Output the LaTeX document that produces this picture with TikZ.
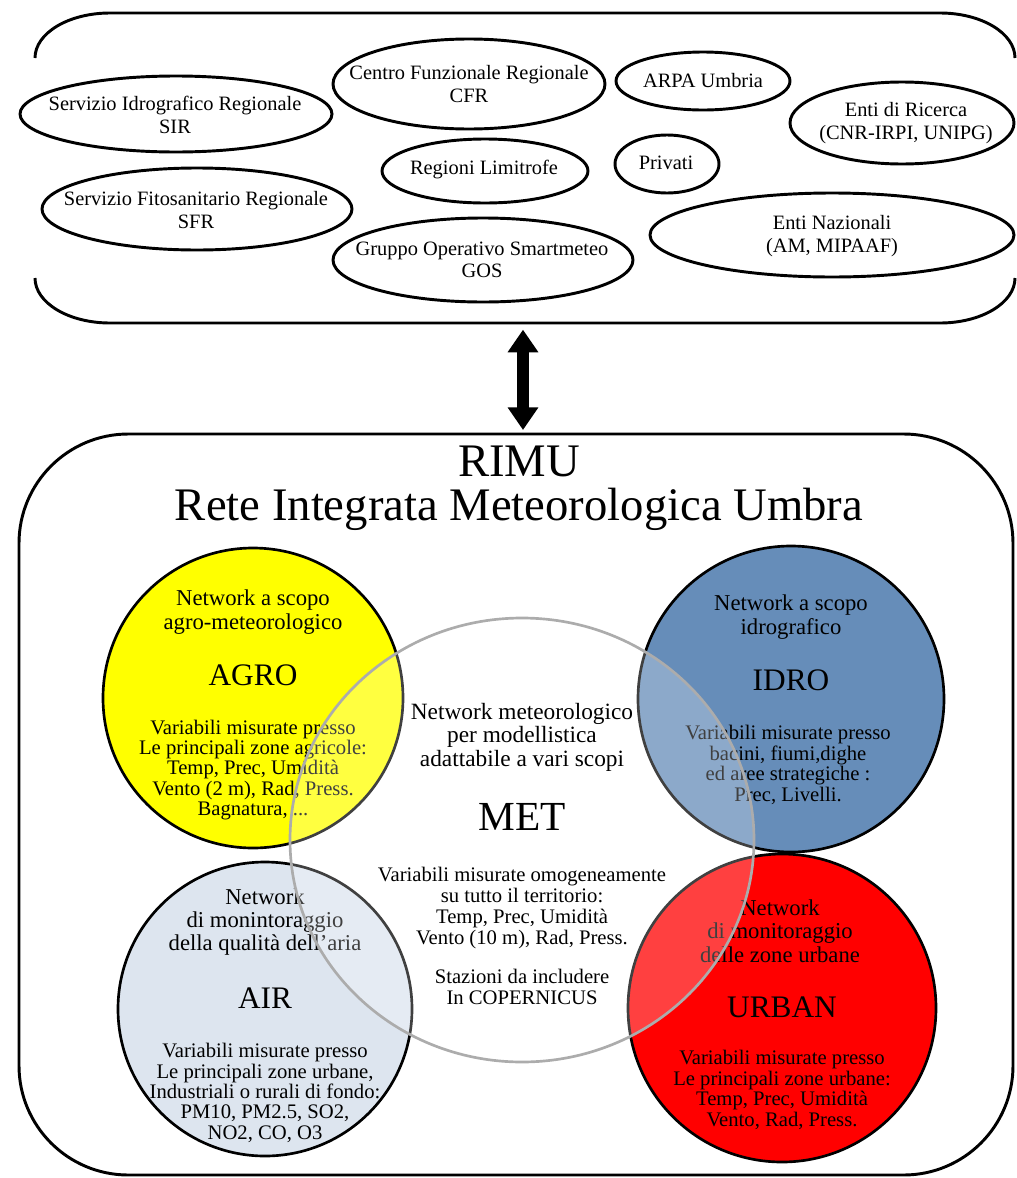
\documentclass[tikz,border=0pt]{standalone}
\usepackage{fontspec}
\setmainfont{Liberation Serif}
\usetikzlibrary{arrows.meta}

\definecolor{giallo}{RGB}{255,255,0}
\definecolor{blu}{RGB}{102,141,185}
\definecolor{aria}{RGB}{221,229,239}
\definecolor{rosso}{RGB}{255,0,0}
\definecolor{grigio}{RGB}{172,172,172}

\tikzset{
	bordo/.style={line width=2.2pt},
	ente/.style={line width=2.2pt},
	enteTxt/.style={align=center, inner sep=0pt, font=\fontsize{15.3}{17}\selectfont},
	rete/.style={draw=black, line width=2pt},
	scopo/.style={align=center, inner sep=0pt, font=\fontsize{17}{17.5}\selectfont},
	descr/.style={align=center, inner sep=0pt, font=\fontsize{15.5}{15.3}\selectfont},
	sigla/.style={inner sep=0pt, font=\fontsize{23.5}{26}\selectfont},
}

\begin{document}
\begin{tikzpicture}[x=0.75pt,y=0.75pt,yscale=-1,xscale=1]
			\useasboundingbox (0,0) rectangle (1017,1178);

			%Shape: Upper bracket, top
			\draw [bordo] (35,58) arc [start angle=180, end angle=270, x radius=75, y radius=45] -- (940,13) arc [start angle=270, end angle=360, x radius=75, y radius=45] ;
			%Shape: Upper bracket, bottom
			\draw [bordo] (35,278) arc [start angle=180, end angle=90, x radius=75, y radius=45] -- (940,323) arc [start angle=90, end angle=0, x radius=75, y radius=45] ;
			\coordinate (enti) at (523,323) ;

			%Shape: Ellipse
			\draw [ente] (176,114) ellipse [x radius=156, y radius=38] ;
			%Shape: Ellipse
			\draw [ente] (197,209) ellipse [x radius=155, y radius=41] ;
			%Shape: Ellipse
			\draw [ente] (469,84) ellipse [x radius=136, y radius=45] ;
			%Shape: Ellipse
			\draw [ente] (485,171) ellipse [x radius=103, y radius=32] ;
			%Shape: Ellipse
			\draw [ente] (483,260) ellipse [x radius=150, y radius=42] ;
			%Shape: Ellipse
			\draw [ente] (703,81) ellipse [x radius=87, y radius=29] ;
			%Shape: Ellipse
			\draw [ente] (667,164) ellipse [x radius=52, y radius=29] ;
			%Shape: Ellipse
			\draw [ente] (902,123) ellipse [x radius=112, y radius=41] ;
			%Shape: Ellipse
			\draw [ente] (832,235) ellipse [x radius=182, y radius=42] ;

			% Text Node
			\node [enteTxt] (sir) at (175,115) {Servizio Idrografico Regionale\\SIR};
			% Text Node
			\node [enteTxt] (sfr) at (196,210) {Servizio Fitosanitario Regionale\\SFR};
			% Text Node
			\node [enteTxt] (cfr) at (469,84) {Centro Funzionale Regionale\\CFR};
			% Text Node
			\node [enteTxt] (limitrofe) at (484,170) {Regioni Limitrofe};
			% Text Node
			\node [enteTxt] (gos) at (482,260) {Gruppo Operativo Smartmeteo\\GOS};
			% Text Node
			\node [enteTxt] (arpa) at (703,81) {ARPA Umbria};
			% Text Node
			\node [enteTxt] (privati) at (666,163) {Privati};
			% Text Node
			\node [enteTxt] (ricerca) at (906,123) {Enti di Ricerca\\(CNR-IRPI, UNIPG)};
			% Text Node
			\node [enteTxt] (nazionali) at (832,236) {Enti Nazionali\\(AM, MIPAAF)};

			%Shape: Rounded Rectangle
			\draw [bordo, rounded corners=82pt] (19,434) rectangle (1013,1175) ;
			\coordinate (rimu) at (523,434) ;

			%Double Arrow
			\draw [line width=9pt, {Triangle[width=22pt,length=17pt]}-{Triangle[width=22pt,length=17pt]}, shorten <=3pt, shorten >=5pt] (rimu) -- (enti) ;

			% Text Node
			\node [align=center, inner sep=0pt, font=\fontsize{35}{33}\selectfont] (titolo) at (519,488) {RIMU\\Rete Integrata Meteorologica Umbra};

			%Shape: Circle
			\draw [rete, fill=giallo] (253,698) circle [radius=150] ;
			%Shape: Circle
			\draw [rete, fill=blu] (791,699) circle [radius=153] ;
			%Shape: Circle
			\draw [rete, fill=aria] (265,1009) circle [radius=147] ;
			%Shape: Circle
			\draw [rete, fill=rosso] (782,1008) circle [radius=154] ;

			% Text Node
			\node [scopo] (agroTop) at (253,612) {Network a scopo\\agro-meteorologico};
			\node [sigla] (agro) at (253,675) {AGRO};
			\node [descr] (agroVar) at (253,770) {Variabili misurate presso\\Le principali zone agricole:\\Temp, Prec, Umidità\\Vento (2 m), Rad, Press.\\Bagnatura, ...};
			% Text Node
			\node [scopo] (idroTop) at (791,617) {Network a scopo\\idrografico};
			\node [sigla] (idro) at (791,680) {IDRO};
			\node [descr] (idroVar) at (788,765) {Variabili misurate presso\\bacini, fiumi,dighe\\ed aree strategiche :\\Prec, Livelli.};
			% Text Node
			\node [scopo] (airTop) at (265,922) {Network\\di monintoraggio\\della qualità dell’aria};
			\node [sigla] (air) at (265,998) {AIR};
			\node [descr] (airVar) at (265,1093) {Variabili misurate presso\\Le principali zone urbane,\\Industriali o rurali di fondo:\\PM10, PM2.5, SO2,\\NO2, CO, O3};
			% Text Node
			\node [scopo] (urbanTop) at (780,931) {Network\\di monitoraggio\\delle zone urbane};
			\node [sigla] (urban) at (782,1007) {URBAN};
			\node [descr] (urbanVar) at (782,1090) {Variabili misurate presso\\Le principali zone urbane:\\Temp, Prec, Umidità\\Vento, Rad, Press.};

			%Shape: Ellipse
			\draw [draw=grigio, line width=2pt, fill=white, fill opacity=0.25] (522,840) ellipse [x radius=232, y radius=222] ;

			% Text Node
			\node [align=center, inner sep=0pt, font=\fontsize{17.5}{17.6}\selectfont] (metTop) at (522,737) {Network meteorologico\\per modellistica\\adattabile a vari scopi};
			\node [inner sep=0pt, font=\fontsize{31}{34}\selectfont] (met) at (522,817) {MET};
			\node [align=center, inner sep=0pt, font=\fontsize{15.5}{15.7}\selectfont] (metVar) at (522,936) {Variabili misurate omogeneamente\\su tutto il territorio:\\Temp, Prec, Umidità\\Vento (10 m), Rad, Press.\\[14pt]Stazioni da includere\\In COPERNICUS};

		\end{tikzpicture}
\end{document}
